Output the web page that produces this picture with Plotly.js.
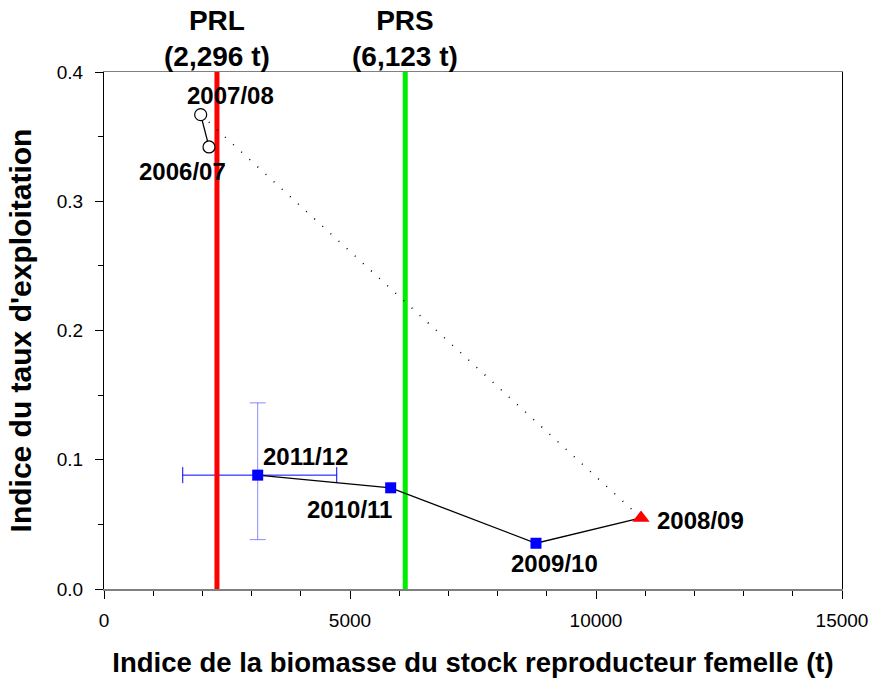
<!DOCTYPE html>
<html>
<head>
<meta charset="utf-8">
<script src="https://cdn.plot.ly/plotly-3.0.1.min.js"></script>
<style>
  html, body { margin: 0; padding: 0; background: #fff; }
  #chart { width: 873px; height: 679px; }
</style>
</head>
<body>
<div id="chart"></div>
<script>
// saisons et valeurs
const oldSeasons = ["2006/07", "2007/08"];
const oldBiomass = [2134, 1965];
const oldRate = [0.342, 0.367];

const refSeason = "2008/09";
const refBiomass = 10915;
const refRate = 0.055;

const newSeasons = ["2009/10", "2010/11", "2011/12"];
const newBiomass = [8780, 5827, 3124];
const newRate = [0.0354, 0.0783, 0.0881];

// intervalles de confiance de 2011/12
const lastBioLow = 1600;
const lastBioHigh = 4730;
const lastRateLow = 0.0382;
const lastRateHigh = 0.144;

const PRL = 2296;
const PRS = 6123;
const refLabels = ["PRL<br>(2,296 t)", "PRS<br>(6,123 t)"];

const font = "Liberation Sans, Arial, sans-serif";
const last = newBiomass.length - 1;

const linePRL = {
  x: [PRL, PRL], y: [0, 0.4], type: "scatter", mode: "lines",
  line: { color: "#ff0000", width: 5 }, hoverinfo: "skip"
};
const linePRS = {
  x: [PRS, PRS], y: [0, 0.4], type: "scatter", mode: "lines",
  line: { color: "#00ee00", width: 5 }, hoverinfo: "skip"
};

const errTrace = {
  x: [newBiomass[last]], y: [newRate[last]], type: "scatter", mode: "markers",
  marker: { size: 1, color: "rgba(0,0,0,0)" },
  error_x: { type: "data", symmetric: false,
    array: [lastBioHigh - newBiomass[last]], arrayminus: [newBiomass[last] - lastBioLow],
    color: "#0000ff", thickness: 1, width: 8 },
  error_y: { type: "data", symmetric: false,
    array: [lastRateHigh - newRate[last]], arrayminus: [newRate[last] - lastRateLow],
    color: "rgba(60,60,255,0.6)", thickness: 1, width: 8 },
  hoverinfo: "skip"
};

const dotted = {
  x: [oldBiomass[1], refBiomass], y: [oldRate[1], refRate],
  type: "scatter", mode: "lines",
  line: { color: "#000", width: 1.5, dash: "1px,10px" }, hoverinfo: "skip"
};

const oldTrace = {
  x: oldBiomass, y: oldRate, type: "scatter", mode: "lines+markers",
  line: { color: "#000", width: 1.3 },
  marker: { symbol: "circle", size: 12, color: "#fff", line: { color: "#000", width: 1.2 } }
};

const newTrace = {
  x: [refBiomass].concat(newBiomass), y: [refRate].concat(newRate),
  type: "scatter", mode: "lines", line: { color: "#000", width: 1.3 }, hoverinfo: "skip"
};

const newMarkers = {
  x: newBiomass, y: newRate, type: "scatter", mode: "markers",
  marker: { symbol: "square", size: 11, color: "#0000ff" }
};

const refMarker = {
  x: [refBiomass], y: [refRate], type: "scatter", mode: "markers",
  marker: { symbol: "triangle-up", size: 15, color: "#ff0000" }
};

const labelFont = { family: font, size: 24, color: "#000", weight: "bold" };
const lab = (x, y, text, xs, ys, anchor) => ({
  x, y, text, xref: "x", yref: "y", showarrow: false,
  xshift: xs, yshift: ys, xanchor: anchor || "center", font: labelFont
});

const annotations = [
  lab(oldBiomass[1], oldRate[1], oldSeasons[1], 30, 19),
  lab(oldBiomass[0], oldRate[0], oldSeasons[0], -26, -25),
  lab(refBiomass, refRate, refSeason, 14, -3, "left"),
  lab(newBiomass[0], newRate[0], newSeasons[0], 19, -20),
  lab(newBiomass[1], newRate[1], newSeasons[1], -41, -22),
  lab(newBiomass[2], newRate[2], newSeasons[2], 48, 19),
  { x: PRL, y: 1, xref: "x", yref: "paper", yanchor: "bottom", yshift: -2, showarrow: false,
    text: refLabels[0], font: { family: font, size: 28, color: "#000", weight: "bold" } },
  { x: PRS, y: 1, xref: "x", yref: "paper", yanchor: "bottom", yshift: -2, showarrow: false,
    text: refLabels[1], font: { family: font, size: 28, color: "#000", weight: "bold" } }
];

const layout = {
  width: 873, height: 679,
  margin: { l: 104, r: 31, t: 72, b: 90, pad: 0 },
  paper_bgcolor: "#fff", plot_bgcolor: "#fff",
  showlegend: false,
  font: { family: font, color: "#000" },
  xaxis: {
    range: [0, 15000], tickvals: [0, 5000, 10000, 15000], tickformat: "d",
    showgrid: false, zeroline: false,
    showline: true, linecolor: "#808080", linewidth: 1.5, mirror: true,
    ticks: "outside", ticklen: 8, tickcolor: "#000", tickwidth: 1,
    tickfont: { family: font, size: 19 }, ticklabelstandoff: 6,
    minor: { dtick: 1000, ticks: "outside", ticklen: 5, tickcolor: "#000" },
    title: { text: "Indice de la biomasse du stock reproducteur femelle (t)", standoff: 22,
      font: { family: font, size: 27.5, weight: "bold" } }
  },
  yaxis: {
    range: [0, 0.4], dtick: 0.1, tickformat: ".1f",
    showgrid: false, zeroline: false,
    showline: true, linecolor: "#000", linewidth: 1, mirror: true,
    ticks: "outside", ticklen: 8, tickcolor: "#000", tickwidth: 1,
    tickfont: { family: font, size: 19 }, ticklabelstandoff: 8,
    minor: { dtick: 0.05, ticks: "outside", ticklen: 5, tickcolor: "#000" },
    title: { text: "Indice du taux d'exploitation", standoff: 16,
      font: { family: font, size: 30, weight: "bold" } }
  },
  annotations
};

Plotly.newPlot("chart",
  [errTrace, linePRL, linePRS, dotted, oldTrace, newTrace, newMarkers, refMarker],
  layout, { displayModeBar: false, staticPlot: true });
</script>
</body>
</html>
